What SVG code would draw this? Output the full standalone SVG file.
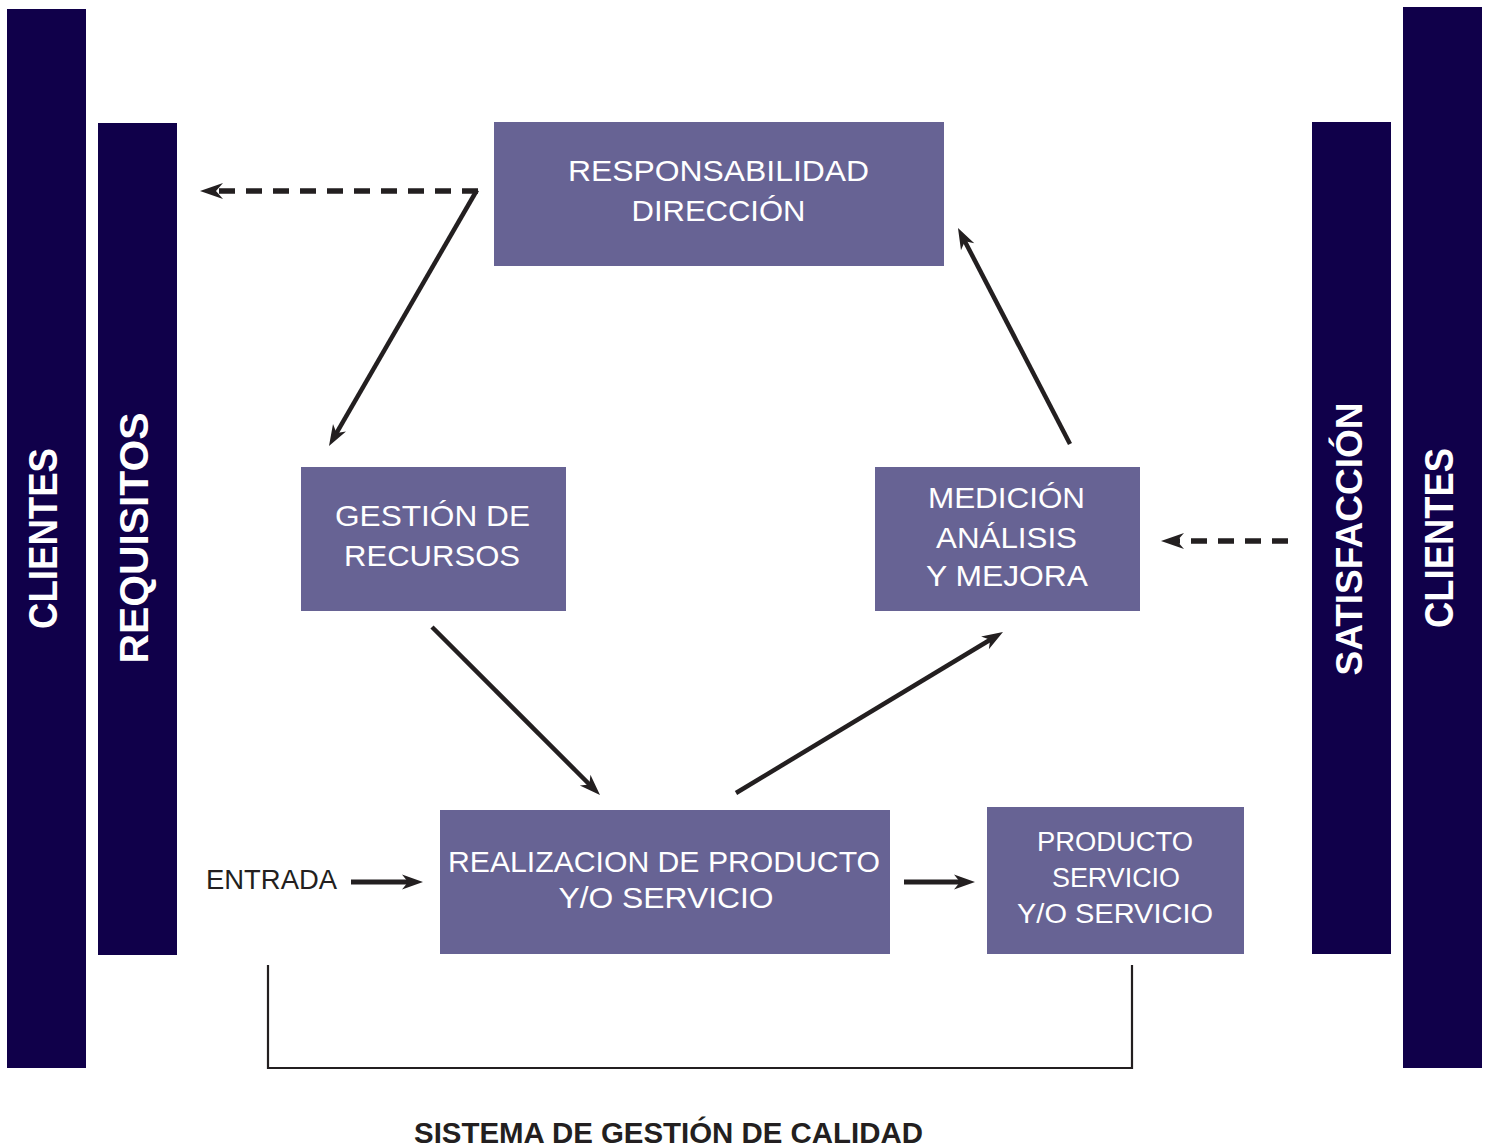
<svg xmlns="http://www.w3.org/2000/svg" width="1493" height="1148" viewBox="0 0 1493 1148">
<defs>
<style>
.bar{fill:#10004a}
.box{fill:#676394}
.vt{font-family:"Liberation Sans",Arial,sans-serif;font-weight:bold;fill:#ffffff;text-anchor:middle}
.bt{font-family:"Liberation Sans",Arial,sans-serif;fill:#ffffff;text-anchor:middle}
.lbl{font-family:"Liberation Sans",Arial,sans-serif;fill:#231f20}
.arr{stroke:#231f20;stroke-width:4.5;fill:none;marker-end:url(#ah)}
.dash{stroke:#231f20;stroke-width:5.5;fill:none;stroke-dasharray:16 11;marker-end:url(#ahd)}
.brk{stroke:#231f20;stroke-width:2.2;fill:none}
</style>
<marker id="ah" markerUnits="userSpaceOnUse" viewBox="-10 -10 24 20" markerWidth="24" markerHeight="20" refX="0" refY="0" orient="auto" overflow="visible">
<path d="M12,0 L-9,-7.5 L-3,0 L-9,7.5 Z" fill="#231f20"/>
</marker>
<marker id="ahd" markerUnits="userSpaceOnUse" viewBox="-12 -10 26 20" markerWidth="26" markerHeight="20" refX="0" refY="0" orient="auto" overflow="visible">
<path d="M12,0 L-11,-8 L-4,0 L-11,8 Z" fill="#231f20"/>
</marker>
</defs>
<rect width="1493" height="1148" fill="#ffffff"/>

<g id="clientes-left">
<rect class="bar" x="7" y="9" width="79" height="1059"/>
<text class="vt" font-size="40" transform="translate(57,538.5) rotate(-90)" textLength="181" lengthAdjust="spacingAndGlyphs">CLIENTES</text>
</g>
<g id="requisitos">
<rect class="bar" x="98" y="123" width="79" height="832"/>
<text class="vt" font-size="40" transform="translate(148,538) rotate(-90)" textLength="251" lengthAdjust="spacingAndGlyphs">REQUISITOS</text>
</g>
<g id="satisfaccion">
<rect class="bar" x="1312" y="122" width="79" height="832"/>
<text class="vt" font-size="37" transform="translate(1362,539) rotate(-90)" textLength="273" lengthAdjust="spacingAndGlyphs">SATISFACCIÓN</text>
</g>
<g id="clientes-right">
<rect class="bar" x="1403" y="7" width="79" height="1061"/>
<text class="vt" font-size="40" transform="translate(1453,538) rotate(-90)" textLength="180" lengthAdjust="spacingAndGlyphs">CLIENTES</text>
</g>

<g id="responsabilidad">
<rect class="box" x="494" y="122" width="450" height="144"/>
<text class="bt" font-size="30" x="718.5" y="181" textLength="301" lengthAdjust="spacingAndGlyphs">RESPONSABILIDAD</text>
<text class="bt" font-size="30" x="718.5" y="221" textLength="174" lengthAdjust="spacingAndGlyphs">DIRECCIÓN</text>
</g>
<g id="gestion">
<rect class="box" x="301" y="467" width="265" height="144"/>
<text class="bt" font-size="30" x="432.5" y="526" textLength="195" lengthAdjust="spacingAndGlyphs">GESTIÓN DE</text>
<text class="bt" font-size="30" x="432" y="566" textLength="176" lengthAdjust="spacingAndGlyphs">RECURSOS</text>
</g>
<g id="medicion">
<rect class="box" x="875" y="467" width="265" height="144"/>
<text class="bt" font-size="30" x="1006.5" y="508" textLength="157" lengthAdjust="spacingAndGlyphs">MEDICIÓN</text>
<text class="bt" font-size="30" x="1006.5" y="548" textLength="141" lengthAdjust="spacingAndGlyphs">ANÁLISIS</text>
<text class="bt" font-size="30" x="1007" y="586" textLength="162" lengthAdjust="spacingAndGlyphs">Y MEJORA</text>
</g>
<g id="realizacion">
<rect class="box" x="440" y="810" width="450" height="144"/>
<text class="bt" font-size="30" x="664" y="872" textLength="432" lengthAdjust="spacingAndGlyphs">REALIZACION DE PRODUCTO</text>
<text class="bt" font-size="30" x="666" y="908" textLength="215" lengthAdjust="spacingAndGlyphs">Y/O SERVICIO</text>
</g>
<g id="producto">
<rect class="box" x="987" y="807" width="257" height="147"/>
<text class="bt" font-size="27" x="1115" y="851" textLength="156" lengthAdjust="spacingAndGlyphs">PRODUCTO</text>
<text class="bt" font-size="27" x="1116" y="887" textLength="128" lengthAdjust="spacingAndGlyphs">SERVICIO</text>
<text class="bt" font-size="27" x="1115" y="923" textLength="196" lengthAdjust="spacingAndGlyphs">Y/O SERVICIO</text>
</g>

<g id="entrada">
<text class="lbl" font-size="27" x="206" y="889" textLength="131" lengthAdjust="spacingAndGlyphs">ENTRADA</text>
</g>
<g id="sistema">
<text class="lbl" font-size="29" font-weight="bold" x="414" y="1143" textLength="509" lengthAdjust="spacingAndGlyphs">SISTEMA DE GESTIÓN DE CALIDAD</text>
</g>

<g id="connectors">
<line class="dash" x1="478" y1="191" x2="212" y2="191"/>
<line class="arr" x1="477" y1="190" x2="335" y2="435.6"/>
<line class="arr" x1="1070" y1="444" x2="963.5" y2="238.7"/>
<line class="arr" x1="432" y1="627" x2="591.5" y2="786.5"/>
<line class="arr" x1="736" y1="793" x2="992.7" y2="638.2"/>
<line class="arr" x1="351" y1="882" x2="411" y2="882" style="stroke-width:5"/>
<line class="arr" x1="904" y1="882" x2="963" y2="882" style="stroke-width:5"/>
<line class="dash" x1="1288" y1="541" x2="1173" y2="541"/>
<polyline class="brk" points="268,965 268,1068 1132,1068 1132,965"/>
</g>
</svg>
